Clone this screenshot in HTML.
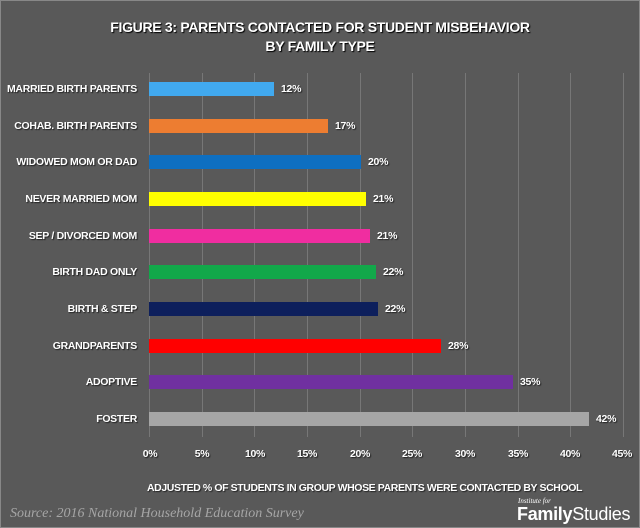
<!DOCTYPE html>
<html><head><style>
body{margin:0;background:#fff}
#c{position:relative;width:638px;height:526px;background:#595959;border:1px solid #888;overflow:hidden;font-family:"Liberation Sans",sans-serif;color:#fff}
.t{position:absolute;left:0;width:638px;text-align:center;font-weight:bold;font-size:14px;letter-spacing:-0.3px;text-shadow:1px 1px 1px #000}
.g{position:absolute;top:86px;width:1px;height:350px;background:#777}
.l{position:absolute;right:502px;font-size:10.5px;font-weight:bold;text-align:right;white-space:nowrap;letter-spacing:-0.3px;text-shadow:1px 1px 1px #222}
.b{position:absolute;left:148px;height:14px}
.v{position:absolute;font-size:10.5px;font-weight:bold;letter-spacing:-0.3px;text-shadow:1px 1px 1px #222}
.x{position:absolute;top:447px;font-size:10.5px;font-weight:bold;width:40px;margin-left:-20px;text-align:center;letter-spacing:-0.3px;text-shadow:1px 1px 1px #222}
</style></head><body><div id="c">
<div class="t" style="top:18px">FIGURE 3: PARENTS CONTACTED FOR STUDENT MISBEHAVIOR</div>
<div class="t" style="top:37px">BY FAMILY TYPE</div>
<div class="g" style="left:148px;top:72px;height:364px"></div>
<div class="g" style="left:201px;top:72px;height:364px"></div>
<div class="g" style="left:253px;top:72px;height:364px"></div>
<div class="g" style="left:306px;top:72px;height:364px"></div>
<div class="g" style="left:359px;top:72px;height:364px"></div>
<div class="g" style="left:411px;top:72px;height:364px"></div>
<div class="g" style="left:464px;top:72px;height:364px"></div>
<div class="g" style="left:517px;top:72px;height:364px"></div>
<div class="g" style="left:569px;top:72px;height:364px"></div>
<div class="g" style="left:622px;top:72px;height:364px"></div>

<div class="l" style="top:82px">MARRIED BIRTH PARENTS</div><div class="b" style="top:81px;width:125px;background:#41a9ef"></div><div class="v" style="top:82px;left:280px">12%</div>
<div class="l" style="top:119px">COHAB. BIRTH PARENTS</div><div class="b" style="top:118px;width:179px;background:#ed7d31"></div><div class="v" style="top:119px;left:334px">17%</div>
<div class="l" style="top:155px">WIDOWED MOM OR DAD</div><div class="b" style="top:154px;width:212px;background:#0e6fc1"></div><div class="v" style="top:155px;left:367px">20%</div>
<div class="l" style="top:192px">NEVER MARRIED MOM</div><div class="b" style="top:191px;width:217px;background:#ffff00"></div><div class="v" style="top:192px;left:372px">21%</div>
<div class="l" style="top:229px">SEP / DIVORCED MOM</div><div class="b" style="top:228px;width:221px;background:#f02da0"></div><div class="v" style="top:229px;left:376px">21%</div>
<div class="l" style="top:265px">BIRTH DAD ONLY</div><div class="b" style="top:264px;width:227px;background:#12a84a"></div><div class="v" style="top:265px;left:382px">22%</div>
<div class="l" style="top:302px">BIRTH &amp; STEP</div><div class="b" style="top:301px;width:229px;background:#0d1f5c"></div><div class="v" style="top:302px;left:384px">22%</div>
<div class="l" style="top:339px">GRANDPARENTS</div><div class="b" style="top:338px;width:292px;background:#ff0000"></div><div class="v" style="top:339px;left:447px">28%</div>
<div class="l" style="top:375px">ADOPTIVE</div><div class="b" style="top:374px;width:364px;background:#7030a0"></div><div class="v" style="top:375px;left:519px">35%</div>
<div class="l" style="top:412px">FOSTER</div><div class="b" style="top:411px;width:440px;background:#a6a6a6"></div><div class="v" style="top:412px;left:595px">42%</div>

<div class="x" style="left:149px">0%</div><div class="x" style="left:201px">5%</div><div class="x" style="left:254px">10%</div><div class="x" style="left:306px">15%</div><div class="x" style="left:359px">20%</div><div class="x" style="left:411px">25%</div><div class="x" style="left:464px">30%</div><div class="x" style="left:517px">35%</div><div class="x" style="left:569px">40%</div><div class="x" style="left:621px">45%</div>
<div style="position:absolute;left:146px;top:481px;font-size:10.5px;font-weight:bold;letter-spacing:-0.4px;text-shadow:1px 1px 1px #222">ADJUSTED % OF STUDENTS IN GROUP WHOSE PARENTS WERE CONTACTED BY SCHOOL</div>
<div style="position:absolute;left:9px;top:505px;font-family:'Liberation Serif',serif;font-style:italic;font-size:14px;color:#a6a6a6">Source: 2016 National Household Education Survey</div>
<div style="position:absolute;left:517px;top:496px;font-family:'Liberation Serif',serif;font-style:italic;font-size:7px">Institute for</div>
<div style="position:absolute;left:516px;top:503px;font-size:18px;letter-spacing:-0.3px"><b>Family</b>Studies</div>
</div></body></html>
